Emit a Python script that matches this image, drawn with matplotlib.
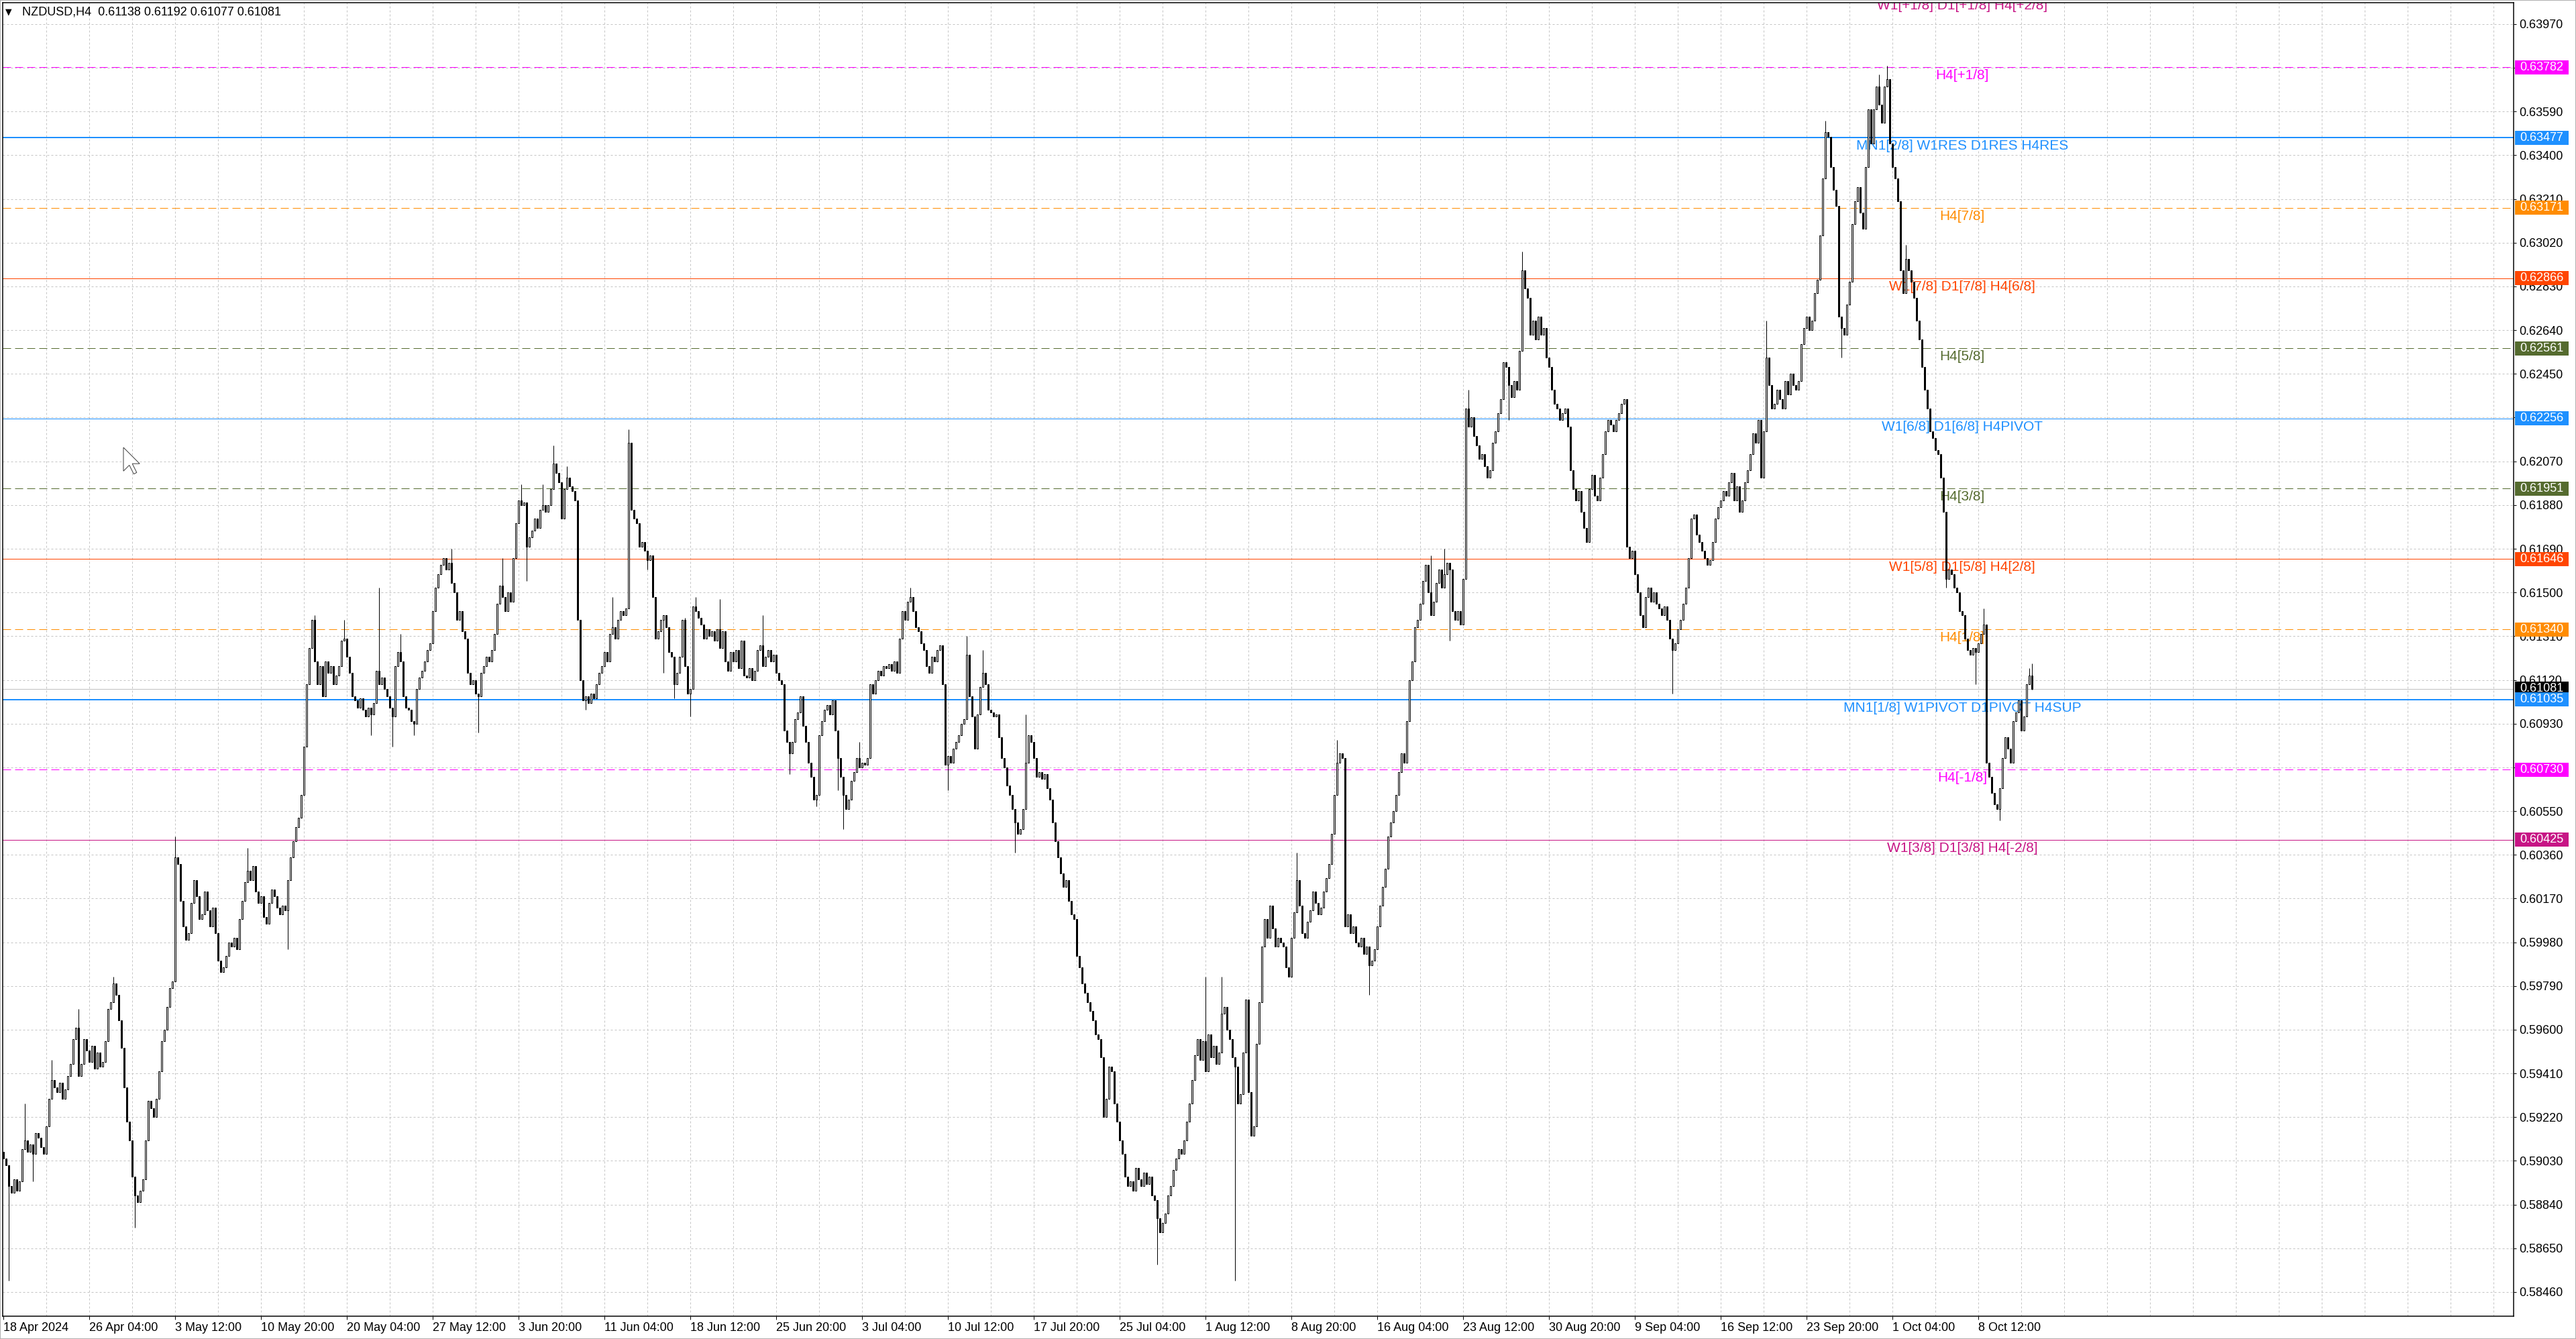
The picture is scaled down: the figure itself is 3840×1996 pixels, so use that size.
import matplotlib
matplotlib.use("Agg")
import matplotlib.pyplot as plt
from matplotlib.patches import Rectangle, Polygon
from matplotlib.transforms import blended_transform_factory, Affine2D

# ---- data (prices in 1e-5 units) ----
header = "NZDUSD,H4  0.61138 0.61192 0.61077 0.61081"

first_open = 59070
closes = [
    59040, 59010, 58920, 58890, 58950, 58900, 58940, 59080, 59120, 59070, 59100, 59060, 59150, 59130, 59090, 59060,
    59180, 59300, 59380, 59350, 59330, 59370, 59300, 59340, 59400, 59450, 59560, 59610, 59400, 59450, 59560, 59510,
    59460, 59530, 59430, 59500, 59440, 59460, 59550, 59690, 59720, 59800, 59750, 59640, 59520, 59350, 59200, 59120,
    58960, 58880, 58850, 58900, 58950, 59120, 59290, 59260, 59220, 59300, 59420, 59550, 59600, 59700, 59780, 59810,
    60350, 60320, 60160, 60050, 59990, 60020, 60150, 60250, 60180, 60080, 60100, 60200, 60120, 60050, 60130, 60020,
    59900, 59850, 59870, 59920, 59980, 59960, 60000, 59950, 60080, 60160, 60240, 60290, 60250, 60310, 60200, 60150,
    60180, 60090, 60060, 60150, 60210, 60180, 60130, 60100, 60140, 60120, 60250, 60350, 60420, 60480, 60520, 60620,
    60830, 61100, 61260, 61380, 61200, 61100, 61180, 61050, 61200, 61150, 61180, 61100, 61140, 61180, 61290, 61300,
    61220, 61150, 61050, 61030, 61000, 61040, 60990, 60960, 61000, 60970, 61020, 61160, 61100, 61130, 61080, 61050,
    61000, 60960, 61180, 61240, 61200, 61050, 61000, 60990, 60940, 60930, 61080, 61130, 61160, 61200, 61250, 61280,
    61420, 61520, 61580, 61620, 61650, 61600, 61630, 61540, 61500, 61380, 61420, 61330, 61300, 61150, 61100, 61120,
    61060, 61050, 61150, 61180, 61220, 61200, 61250, 61320, 61450, 61530, 61480, 61420, 61500, 61460, 61650, 61800,
    61900, 61880, 61890, 61700, 61740, 61770, 61820, 61780, 61860, 61880, 61850, 61880, 61950, 62060, 62020, 61980,
    61820, 61950, 62000, 61960, 61940, 61900, 61380, 61120, 61030, 61050, 61020, 61060, 61040, 61100, 61150, 61180,
    61240, 61200, 61320, 61350, 61300, 61380, 61420, 61400, 61430, 62150, 61860, 61820, 61800, 61700, 61720, 61680,
    61640, 61660, 61480, 61300, 61330, 61380, 61400, 61350, 61240, 61220, 61100, 61150, 61220, 61380, 61180, 61060,
    61080, 61440, 61420, 61390, 61360, 61300, 61340, 61310, 61330, 61290, 61340, 61260, 61330, 61200, 61160, 61240,
    61200, 61250, 61170, 61290, 61140, 61130, 61170, 61120, 61160, 61250, 61270, 61180, 61220, 61250, 61200, 61230,
    61150, 61120, 61100, 60900, 60850, 60800, 60850, 60950, 60980, 61050, 60920, 60850, 60760, 60700, 60600, 60620,
    60880, 60940, 60990, 61010, 60970, 61030, 60900, 60780, 60700, 60620, 60560, 60600, 60680, 60720, 60780, 60740,
    60760, 60750, 60780, 61100, 61060, 61120, 61160, 61140, 61180, 61170, 61190, 61160, 61200, 61150, 61300, 61420,
    61380, 61460, 61480, 61420, 61350, 61330, 61280, 61250, 61180, 61150, 61220, 61200, 61250, 61270, 61100, 60750,
    60790, 60760, 60820, 60850, 60880, 60930, 60950, 61230, 61050, 60960, 60820, 60970, 61090, 61150, 61100, 60990,
    60980, 60960, 60970, 60870, 60780, 60740, 60660, 60620, 60560, 60500, 60450, 60470, 60560, 60760, 60880, 60850,
    60780, 60700, 60720, 60690, 60710, 60650, 60600, 60500, 60420, 60350, 60280, 60220, 60250, 60160, 60100, 60080,
    59920, 59870, 59800, 59760, 59720, 59680, 59640, 59580, 59560, 59480, 59220, 59300, 59440, 59420, 59280, 59200,
    59120, 59060, 58960, 58920, 58940, 58900, 59000, 58950, 58920, 58980, 58930, 58960, 58880, 58860, 58780, 58720,
    58760, 58800, 58880, 58920, 58990, 59040, 59080, 59060, 59120, 59200, 59280, 59380, 59490, 59560, 59470, 59550,
    59420, 59580, 59480, 59530, 59450, 59500, 59670, 59700, 59600, 59560, 59480, 59440, 59280, 59320, 59500, 59730,
    59330, 59140, 59180, 59540, 59720, 59960, 60080, 60000, 60140, 60040, 59960, 60000, 59980, 59960, 59870, 59830,
    60000, 60110, 60250, 60140, 60020, 60000, 60070, 60120, 60200, 60150, 60100, 60130, 60200, 60260, 60320, 60450,
    60620, 60760, 60800, 60780, 60050, 60100, 60020, 60050, 59980, 59960, 60000, 59930, 59960, 59880, 59900, 59950,
    60050, 60140, 60220, 60300, 60440, 60500, 60550, 60620, 60720, 60800, 60760, 60940, 61120, 61200, 61350, 61380,
    61450, 61550, 61620, 61500, 61400, 61460, 61540, 61600, 61520, 61580, 61630, 61600, 61420, 61380, 61420, 61360,
    61560, 62300, 62220, 62260, 62180, 62140, 62080, 62100, 62050, 62000, 62030, 62150, 62200, 62280, 62340, 62500,
    62480, 62400, 62350, 62420, 62380, 62550, 62900, 62820, 62780, 62620, 62680, 62600, 62700, 62620, 62650, 62520,
    62480, 62380, 62320, 62300, 62250, 62280, 62300, 62220, 62030, 61950, 61900, 61940, 61850, 61780, 61720, 61950,
    62010, 61920, 61900, 62000, 62100, 62200, 62250, 62230, 62200, 62250, 62280, 62320, 62340, 61700, 61650, 61680,
    61580, 61500, 61400, 61350, 61480, 61520, 61460, 61500, 61450, 61430, 61400, 61440, 61380, 61300, 61250, 61280,
    61340, 61380, 61450, 61520, 61650, 61820, 61840, 61750, 61720, 61680, 61650, 61620, 61640, 61720, 61820, 61870,
    61900, 61940, 61920, 61980, 62020, 61900, 61960, 61850, 61900, 61980, 62030, 62100, 62190, 62150, 62250, 62000,
    62200, 62520, 62400, 62300, 62320, 62380, 62340, 62300, 62420, 62360, 62450, 62400, 62380, 62420, 62580, 62650,
    62700, 62640, 62680, 62800, 62860, 63050, 63300, 63500, 63480, 63350, 63250, 63180, 62700, 62650, 62620, 62750,
    62850, 63100, 63200, 63260, 63150, 63080, 63350, 63600, 63450, 63600, 63700, 63620, 63540, 63700, 63730, 63450,
    63350, 63300, 63200, 62900, 62800, 62950, 62900, 62850, 62780, 62680, 62600, 62480, 62380, 62300, 62200, 62170,
    62120, 62100, 62000, 61850, 61560, 61600, 61580, 61520, 61500, 61420, 61400, 61300, 61250, 61230, 61260, 61240,
    61280, 61320, 61360, 60760, 60700, 60630, 60580, 60560, 60650, 60780, 60870, 60820, 60760, 60940, 60980, 61030,
    60900, 60960, 61100, 61138, 61081,
]

# bars whose wick reaches well past the body (bar index -> price)
wick_highs = {8: 59280, 18: 59470, 28: 59690, 41: 59830, 64: 60440, 91: 60390, 116: 61400,
              127: 61380, 140: 61520, 148: 61320, 167: 61690, 186: 61650, 193: 61970, 201: 61970,
              205: 62140, 210: 62050, 227: 61480, 233: 62210, 254: 61390, 258: 61480, 267: 61470,
              283: 61400, 319: 60850, 338: 61520, 359: 61310, 365: 61250, 381: 60970, 448: 59830,
              454: 59830, 482: 60370, 497: 60860, 532: 61660, 537: 61690, 546: 62380, 566: 62980,
              657: 62680, 679: 63550, 699: 63750, 702: 63790, 709: 63010, 738: 61430, 755: 61170,
              756: 61192}
wick_lows = {2: 58510, 11: 58940, 49: 58740, 106: 59950, 137: 60880, 145: 60830, 153: 60880,
             177: 60890, 195: 61550, 217: 60990, 240: 61600, 246: 61150, 250: 61040, 256: 60960,
             293: 60710, 303: 60570, 311: 60640, 313: 60470, 352: 60640, 377: 60370, 430: 58580,
             459: 58510, 509: 59750, 539: 61290, 561: 62250, 622: 61060, 685: 62520, 724: 61520,
             735: 61100, 744: 60510, 756: 61077}

date_tick_bars = [0] + list(range(32, 737, 32))
date_labels = ["18 Apr 2024", "26 Apr 04:00", "3 May 12:00", "10 May 20:00", "20 May 04:00",
               "27 May 12:00", "3 Jun 20:00", "11 Jun 04:00", "18 Jun 12:00", "25 Jun 20:00",
               "3 Jul 04:00", "10 Jul 12:00", "17 Jul 20:00", "25 Jul 04:00", "1 Aug 12:00",
               "8 Aug 20:00", "16 Aug 04:00", "23 Aug 12:00", "30 Aug 20:00", "9 Sep 04:00",
               "16 Sep 12:00", "23 Sep 20:00", "1 Oct 04:00", "8 Oct 12:00"]

price_ticks = [0.58460, 0.58650, 0.58840, 0.59030, 0.59220, 0.59410, 0.59600, 0.59790, 0.59980,
               0.60170, 0.60360, 0.60550, 0.60740, 0.60930, 0.61120, 0.61310, 0.61500, 0.61690,
               0.61880, 0.62070, 0.62260, 0.62450, 0.62640, 0.62830, 0.63020, 0.63210, 0.63400,
               0.63590, 0.63780, 0.63970]

level_prices = [0.64087, 0.63782, 0.63477, 0.63171, 0.62866, 0.62561, 0.62256,
                0.61951, 0.61646, 0.61340, 0.61035, 0.60730, 0.60425]
level_names = ["W1[+1/8] D1[+1/8] H4[+2/8]", "H4[+1/8]", "MN1[2/8] W1RES D1RES H4RES", "H4[7/8]",
               "W1[7/8] D1[7/8] H4[6/8]", "H4[5/8]", "W1[6/8] D1[6/8] H4PIVOT", "H4[3/8]",
               "W1[5/8] D1[5/8] H4[2/8]", "H4[1/8]", "MN1[1/8] W1PIVOT D1PIVOT H4SUP", "H4[-1/8]",
               "W1[3/8] D1[3/8] H4[-2/8]"]
current_price = 0.61081

# ---- styles ----
level_colors = ['#C71585', '#FF00FF', '#1E90FF', '#FF8C00', '#FF4500', '#556B2F', '#1E90FF',
                '#556B2F', '#FF4500', '#FF8C00', '#1E90FF', '#FF00FF', '#C71585']
level_dashed = [False, True, False, True, False, True, False, True, False, True, False, True, False]
level_px = [1, 1, 2, 1, 1, 1, 1, 1, 1, 1, 2, 1, 1]

W, H, DPI = 3840, 1996, 100
px = 72 / DPI
plt.rcParams['font.family'] = ['Liberation Sans', 'DejaVu Sans']
plt.rcParams['lines.scale_dashes'] = False

fig = plt.figure(figsize=(W / DPI, H / DPI), dpi=DPI, facecolor='white')
ax_l, ax_r, ax_t, ax_b = 4, 3747, 4, 1962
ax = fig.add_axes([ax_l / W, 1 - ax_b / H, (ax_r - ax_l) / W, (ax_b - ax_t) / H])
ymin, ymax = 0.58355, 0.64063
xmin, xmax = -0.25, 935.5
data_per_px = (ymax - ymin) / (ax_b - ax_t)

grid_kw = dict(color='#c4c4c4', lw=px, linestyle=(0, (3 * px, 3 * px)), zorder=0.5)
for p in price_ticks:
    ax.axhline(p, **grid_kw)
for k in range(16, 936, 16):
    ax.axvline(k, **grid_kw)

# level lines and their labels
for p, name, col, dsh, lw in zip(level_prices, level_names, level_colors, level_dashed, level_px):
    ls = (0, (12 * px, 6 * px)) if dsh else '-'
    ax.axhline(p, color=col, lw=lw * px, linestyle=ls, zorder=1)
    ax.annotate(name, xy=(730, p), xytext=(0, -12.5 * px), textcoords='offset points',
                ha='center', va='center', color=col, fontsize=15, zorder=2,
                annotation_clip=False, clip_on=True)
ax.axhline(current_price, color='#c0c0c0', lw=px, zorder=1)

# candles
c = [v / 1e5 for v in closes]
o = [first_open / 1e5] + c[:-1]
hi = [max(a, b) for a, b in zip(o, c)]
lo = [min(a, b) for a, b in zip(o, c)]
for k, v in wick_highs.items():
    hi[k] = max(hi[k], v / 1e5)
for k, v in wick_lows.items():
    lo[k] = min(lo[k], v / 1e5)
idx = list(range(len(c)))
ax.vlines(idx, lo, hi, color='black', lw=px, zorder=3)
up = [i for i in idx if c[i] >= o[i]]
dn = [i for i in idx if c[i] < o[i]]
ax.bar(up, [c[i] - o[i] for i in up], bottom=[o[i] for i in up], width=0.7,
       facecolor='white', edgecolor='black', linewidth=px, zorder=4)
ax.bar(dn, [o[i] - c[i] for i in dn], bottom=[c[i] for i in dn], width=0.7,
       facecolor='black', edgecolor='black', linewidth=px, zorder=4)

# axes
ax.set_xlim(xmin, xmax)
ax.set_ylim(ymin, ymax)
ax.yaxis.tick_right()
ax.set_yticks(price_ticks)
ax.set_yticklabels([f"{p:.5f}" for p in price_ticks])
ax.set_xticks(date_tick_bars)
ax.set_xticklabels(date_labels)
for lab in ax.get_xticklabels():
    lab.set_horizontalalignment('left')
ax.tick_params(axis='y', length=4 * px, width=px, pad=4 * px, labelsize=13, colors='black')
ax.tick_params(axis='x', length=5 * px, width=px, pad=4 * px, labelsize=13, colors='black')
for s in ax.spines.values():
    s.set_color('black')
    s.set_linewidth(1.5 * px)

# price boxes on the right scale
trans = blended_transform_factory(fig.transFigure, ax.transData)
box_h = 21 * data_per_px
box_items = [(current_price, 'black')] + [(p, col) for p, col in zip(level_prices, level_colors)
                                           if ymin < p < ymax]
for p, col in box_items:
    ax.add_patch(Rectangle((3749 / W, p - box_h / 2), 80 / W, box_h, transform=trans,
                           facecolor=col, edgecolor='none', clip_on=False, zorder=5))
    ax.text(3756 / W, p, f"{p:.5f}", transform=trans, color='white', fontsize=13,
            va='center', ha='left', zorder=6, clip_on=False)
ax.set_xlim(xmin, xmax)
ax.set_ylim(ymin, ymax)

# header
fig.text(8 / W, 1 - 18 / H, '\u25BC', fontsize=9, va='center', family='DejaVu Sans')
fig.text(33 / W, 1 - 18 / H, header, fontsize=13, va='center')

# mouse pointer left in the screenshot (figure pixels, y down from the top)
cursor_shape = [(0, 0), (0, 16), (4, 12), (7, 18), (9, 17), (6, 11), (11, 11)]
cur_tf = Affine2D().scale(2.2, -2.2).translate(184, H - 667) + matplotlib.transforms.IdentityTransform()
fig.patches.append(Polygon(cursor_shape, closed=True, transform=cur_tf, facecolor='white',
                           edgecolor='#404040', lw=px, zorder=10))

# window border
fig.patches.append(Rectangle((0, 0), 1, 1, transform=fig.transFigure, fill=False,
                             edgecolor='#b0b0b0', lw=2 * px))

fig.savefig('out.png', dpi=DPI, facecolor='white')
